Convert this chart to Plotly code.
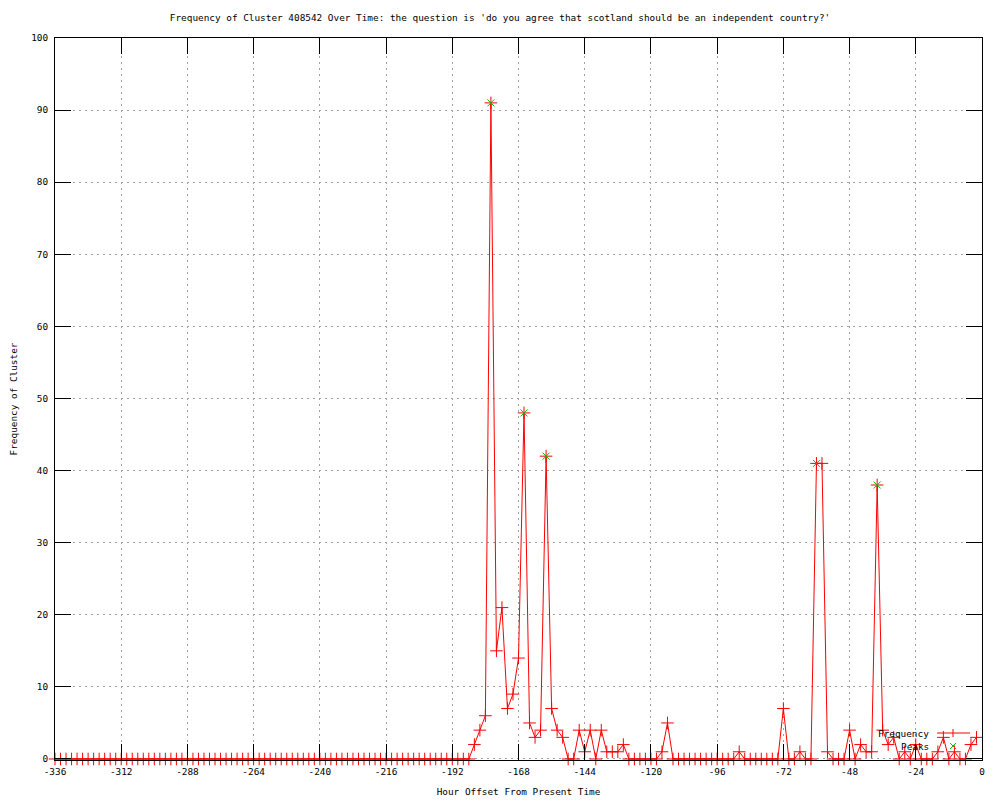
import plotly.graph_objects as go

# ---- data ----
hours = list(range(-336, 0, 2))  # 2-hour sampling from -336 to -2
freq = [
    0, 0, 0, 0, 0, 0, 0, 0, 0, 0, 0, 0, 0, 0, 0, 0, 0, 0, 0,
    0, 0, 0, 0, 0, 0, 0, 0, 0, 0, 0, 0, 0, 0, 0, 0, 0, 0, 0,
    0, 0, 0, 0, 0, 0, 0, 0, 0, 0, 0, 0, 0, 0, 0, 0, 0, 0, 0,
    0, 0, 0, 0, 0, 0, 0, 0, 0, 0, 0, 0, 0, 0, 0, 0, 0, 0, 0,
    # -184 .. -130
    2, 4, 6, 91, 15, 21, 7, 9, 14, 48, 5, 3, 4, 42, 7, 4, 3, 0, 0, 4, 1, 4, 0, 4, 1, 1, 1, 2,
    # -128 .. -118
    0, 0, 0, 0, 0, 0,
    # -116, -114
    1, 5,
    # -112 .. -90
    0, 0, 0, 0, 0, 0, 0, 0, 0, 0, 0, 0,
    # -88
    1,
    # -86 .. -74
    0, 0, 0, 0, 0, 0, 0,
    # -72 .. -62
    7, 0, 0, 1, 0, 0,
    # -60 .. -40
    41, 41, 1, 0, 0, 0, 4, 0, 2, 1, 1,
    # -38 .. -2
    38, 4, 2, 3, 0, 1, 0, 2, 0, 0, 0, 1, 3, 0, 1, 0, 0, 2, 3,
]
assert len(freq) == len(hours)

peak_hours = [-178, -166, -158, -60, -38]
peak_values = [91, 48, 42, 41, 38]

x_ticks = [-336, -312, -288, -264, -240, -216, -192, -168, -144, -120, -96, -72, -48, -24, 0]
y_ticks = [0, 10, 20, 30, 40, 50, 60, 70, 80, 90, 100]

title_text = "Frequency of Cluster 408542 Over Time: the question is 'do you agree that scotland should be an independent country?'"

FONT = "DejaVu Sans Mono"
FS = 9.4
RED = "#ff0000"
GREEN = "#00c000"

fig = go.Figure()
fig.add_trace(go.Scatter(
    x=hours, y=freq, mode="lines+markers", name="Frequency",
    line=dict(color=RED, width=1), cliponaxis=False,
    marker=dict(symbol="cross-thin-open", size=9, line=dict(color=RED, width=1), color=RED),
))
fig.add_trace(go.Scatter(
    x=peak_hours, y=peak_values, mode="markers", name="Peaks", cliponaxis=False,
    marker=dict(symbol="x-thin-open", size=7, line=dict(color=GREEN, width=1), color=GREEN),
))

# page body has an 8px margin; figure sized so that the plot area lands at
# x 55..982, y 38..760 in the 1000x800 window
OFF = 8
W, H = 1000 - OFF, 800 - OFF
L, T = 55 - OFF, 38 - OFF
PW, PH = 927, 722
R, B = W - L - PW, H - T - PH


def px(x):  # window px -> paper x
    return (x - OFF - L) / PW


def py(y):  # window px -> paper y
    return (T + PH - (y - OFF)) / PH


axis_common = dict(
    showline=True, linecolor="black", linewidth=1, mirror="ticks",
    ticks="inside", ticklen=16, tickcolor="black", tickwidth=1,
    showgrid=True, gridcolor="#a0a0a0", gridwidth=1, griddash="2px,4px",
    zeroline=False, tickfont=dict(family=FONT, size=FS, color="black"),
    layer="above traces",
)

fig.update_xaxes(range=[-336, 0], tickvals=x_ticks, ticktext=[str(v) for v in x_ticks],
                 ticklabelstandoff=3,
                 title=dict(text="Hour Offset From Present Time", font=dict(family=FONT, size=FS, color="black"), standoff=12),
                 **axis_common)
fig.update_yaxes(range=[-0.14, 100], tickvals=y_ticks, ticktext=[str(v) for v in y_ticks],
                 ticklabelstandoff=4,
                 title=dict(text="Frequency of Cluster", font=dict(family=FONT, size=FS, color="black"), standoff=12),
                 **axis_common)

# gnuplot-style key (bottom right, text right-justified, sample on the right)
fig.add_annotation(xref="paper", yref="paper", x=px(931), y=py(733), text="Frequency",
                   showarrow=False, xanchor="right", yanchor="middle",
                   font=dict(family=FONT, size=FS, color="black"))
fig.add_annotation(xref="paper", yref="paper", x=px(931), y=py(746), text="Peaks",
                   showarrow=False, xanchor="right", yanchor="middle",
                   font=dict(family=FONT, size=FS, color="black"))
shapes = [
    dict(type="line", xref="paper", yref="paper", x0=px(937), x1=px(970), y0=py(733), y1=py(733),
         line=dict(color=RED, width=1)),
    dict(type="line", xref="paper", yref="paper", x0=px(953), x1=px(953), y0=py(729), y1=py(737),
         line=dict(color=RED, width=1)),
    dict(type="line", xref="paper", yref="paper", x0=px(950), x1=px(956), y0=py(743), y1=py(749),
         line=dict(color=GREEN, width=1)),
    dict(type="line", xref="paper", yref="paper", x0=px(950), x1=px(956), y0=py(749), y1=py(743),
         line=dict(color=GREEN, width=1)),
]

fig.update_layout(
    width=W, height=H,
    margin=dict(l=L, r=R, t=T, b=B, autoexpand=False),
    paper_bgcolor="white", plot_bgcolor="white",
    showlegend=False,
    shapes=shapes,
    title=dict(text=title_text, x=(500 - OFF) / W, xref="container", xanchor="center",
               y=1 - (18 - OFF) / H, yref="container", yanchor="middle",
               font=dict(family=FONT, size=FS, color="black")),
    font=dict(family=FONT, size=FS, color="black"),
)

fig.write_html("out.html")
